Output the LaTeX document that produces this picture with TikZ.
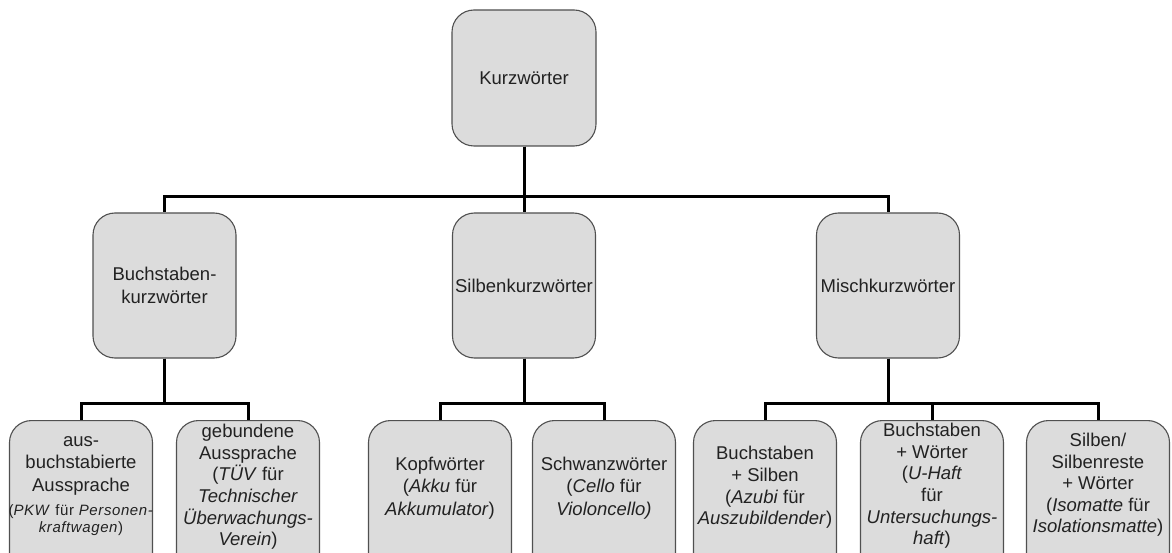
\documentclass[tikz,border=0pt]{standalone}
\usepackage{fontspec}
\setmainfont{Liberation Sans}
\newfontfamily\spacedfont[LetterSpace=4]{Liberation Sans}
\definecolor{boxfill}{HTML}{DCDCDC}
\definecolor{boxline}{HTML}{505050}
\definecolor{txtcol}{HTML}{222222}
\begin{document}
\begin{tikzpicture}[x=1pt,y=-1pt,
 box/.style={draw=boxline, fill=boxfill, line width=1.1pt, rounded corners=22pt, minimum width=143pt, inner sep=0pt},
 conn/.style={draw=black, line width=3pt},
 txt/.style={align=center, text=txtcol, font=\fontsize{18.5}{21.6}\selectfont, inner sep=0pt},
 big/.style={align=center, text=txtcol, font=\fontsize{18.5}{23}\selectfont},
 smalltxt/.style={align=center, text=txtcol, font=\spacedfont\fontsize{15}{17.5}\selectfont, inner sep=0pt}]
\useasboundingbox (0,0) rectangle (1172,553);
\clip (0,0) rectangle (1172,553);
% top
\node[box, big, minimum width=144pt, minimum height=136pt] (top) at (524,78) {Kurzwörter};
% middle row
\node[box, big, minimum height=145pt] (m1) at (164.5,285.5) {Buchstaben-\\kurzwörter};
\node[box, big, minimum height=145pt] (m2) at (524,285.5) {Silbenkurzwörter};
\node[box, big, minimum height=145pt] (m3) at (888,285.5) {Mischkurzwörter};
% bottom row boxes
\foreach \n/\x in {b1/81,b2/248,b3/440,b4/604,b5/765,b6/932,b7/1098}
  \node[box, anchor=north, minimum height=200pt] (\n) at (\x,420) {};
% bottom texts
\node[txt, font=\fontsize{18.5}{22.5}\selectfont] (t1) at (81,465.5) {aus-\\buchstabierte\\Aussprache};
\node[smalltxt] (t1b) at (81,520) {(\textit{PKW} für \textit{Personen-}\\\textit{kraftwagen})};
\node[txt] (t2) at (248,487) {gebundene\\Aussprache\\(\textit{TÜV} für\\\textit{Technischer}\\\textit{Überwachungs-}\\\textit{Verein})};
\node[txt, font=\fontsize{18.5}{22.5}\selectfont] (t3) at (440,488) {Kopfwörter\\(\textit{Akku} für\\\textit{Akkumulator})};
\node[txt, font=\fontsize{18.5}{22.5}\selectfont] (t4) at (604,488) {Schwanzwörter\\(\textit{Cello} für\\\textit{Violoncello)}};
\node[txt] (t5) at (765,487.5) {Buchstaben\\+ Silben\\(\textit{Azubi} für\\\textit{Auszubildender})};
\node[txt] (t6) at (932,486) {Buchstaben\\+ Wörter\\(\textit{U-Haft}\\für\\\textit{Untersuchungs-}\\\textit{haft})};
\node[txt] (t7) at (1098,485) {Silben/\\Silbenreste\\+ Wörter\\(\textit{Isomatte} für\\\textit{Isolationsmatte})};
% connectors
\draw[conn] (top.south) -- (m2.north);
\draw[conn] (top.south) -- ++(0,50) -| (m1.north);
\draw[conn] (top.south) -- ++(0,50) -| (m3.north);
\draw[conn] (m1.south) -- ++(0,45) -| (b1.north);
\draw[conn] (m1.south) -- ++(0,45) -| (b2.north);
\draw[conn] (m2.south) -- ++(0,45) -| (b3.north);
\draw[conn] (m2.south) -- ++(0,45) -| (b4.north);
\draw[conn] (m3.south) -- ++(0,45) -| (b5.north);
\draw[conn] (m3.south) -- ++(0,45) -| (b6.north);
\draw[conn] (m3.south) -- ++(0,45) -| (b7.north);
\end{tikzpicture}
\end{document}
